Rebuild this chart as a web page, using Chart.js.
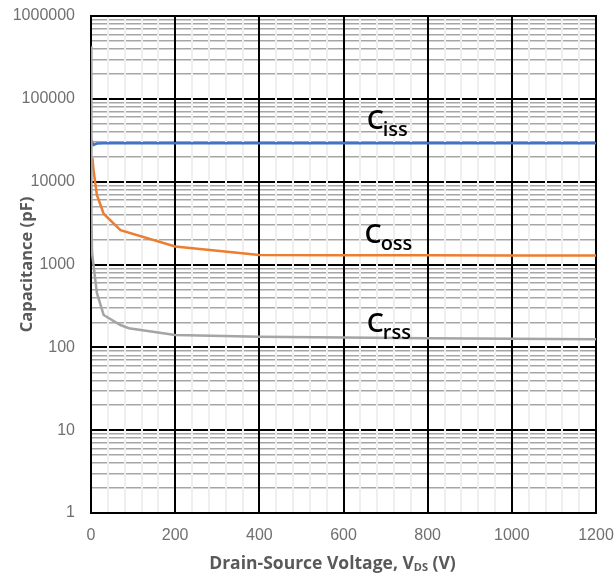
<!DOCTYPE html>
<html>
<head>
<meta charset="utf-8">
<script src="https://cdn.jsdelivr.net/npm/chart.js@4"></script>
<style>
  html, body { margin: 0; padding: 0; background: #ffffff; }
  #wrap { position: relative; width: 615px; height: 577px; }
</style>
</head>
<body>
<div id="wrap"><canvas id="chart" width="615" height="577"></canvas></div>
<script>
// ---- data ----
const cissV = [1, 2.5, 6, 14, 30, 200, 400, 600, 800, 1000, 1200];
const cissC = [32000, 30000, 27700, 28800, 29000, 29000, 29000, 29000, 29000, 29000, 29000];

const cossV = [3.5, 6, 14, 30, 70, 200, 400, 600, 800, 1000, 1200];
const cossC = [19300, 13800, 6900, 4100, 2600, 1650, 1300, 1290, 1290, 1280, 1280];

const crssV = [0, 1, 2.5, 14, 30, 70, 90, 200, 400, 600, 800, 1000, 1200];
const crssC = [430000, 3750, 1380, 453, 246, 186, 170, 141, 134, 131, 129, 127, 125];

const seriesColors = ['#4472C4', '#ED7D31', '#A5A5A5'];

// series name labels (main letter + subscript) and their anchor in data units
const labelMain = ['C', 'C', 'C'];
const labelSub = ['iss', 'oss', 'rss'];
const labelAtV = [655, 650, 655];
const labelAtC = [43300, 1820, 155];

// ticks
const yDecades = [1, 10, 100, 1000, 10000, 100000, 1000000];
const yMinorMultipliers = [2, 3, 4, 5, 6, 7, 8, 9];
const xMajorTicks = [0, 200, 400, 600, 800, 1000, 1200];
const xMinorStep = 40;

const xTitleMain = 'Drain-Source Voltage, V';
const xTitleSub = 'DS';
const xTitleEnd = ' (V)';
const yTitle = 'Capacitance (pF)';

// ---- build ----
const toXY = (vs, cs) => vs.map((v, i) => ({ x: v, y: cs[i] }));

const yTickValues = [];
yDecades.forEach(d => {
  yTickValues.push(d);
  if (d < 1000000) yMinorMultipliers.forEach(m => yTickValues.push(d * m));
});
yTickValues.sort((a, b) => a - b);

const tickFont = { family: '"Liberation Sans", Arial, sans-serif', size: 16 };
const tickColor = '#707070';
const titleColor = '#595959';

const seriesLabelPlugin = {
  id: 'seriesLabelPlugin',
  afterDatasetsDraw(chart) {
    const { ctx, scales } = chart;
    const xs = scales.x, ys = scales.y;
    ctx.save();
    ctx.textAlign = 'left';
    ctx.textBaseline = 'alphabetic';
    ctx.fillStyle = '#000000';
    for (let i = 0; i < labelMain.length; i++) {
      const px = xs.getPixelForValue(labelAtV[i]);
      const py = ys.getPixelForValue(labelAtC[i]);
      ctx.font = '600 27px "Open Sans", sans-serif';
      ctx.fillText(labelMain[i], px, py);
      const w = ctx.measureText(labelMain[i]).width;
      ctx.font = '600 20px "Open Sans", sans-serif';
      ctx.fillText(labelSub[i], px + w - 1, py + 7);
    }
    // x-axis title with subscript
    ctx.fillStyle = titleColor;
    const fMain = 'bold 17.5px "Open Sans", sans-serif';
    const fSub = 'bold 11px "Open Sans", sans-serif';
    ctx.font = fMain;
    const w1 = ctx.measureText(xTitleMain).width;
    const w3 = ctx.measureText(xTitleEnd).width;
    ctx.font = fSub;
    const w2 = ctx.measureText(xTitleSub).width;
    const total = w1 + w2 + w3;
    const cx = (chart.chartArea.left + chart.chartArea.right) / 2 - 11;
    let tx = cx - total / 2;
    const ty = chart.height - 8;
    ctx.font = fMain;
    ctx.fillText(xTitleMain, tx, ty);
    tx += w1;
    ctx.font = fSub;
    ctx.fillText(xTitleSub, tx, ty + 2);
    tx += w2;
    ctx.font = fMain;
    ctx.fillText(xTitleEnd, tx, ty);
    ctx.restore();
  }
};

new Chart(document.getElementById('chart'), {
  type: 'line',
  data: {
    datasets: [
      { label: 'Ciss', data: toXY(cissV, cissC), borderColor: seriesColors[0], borderWidth: 2.5, order: 2 },
      { label: 'Coss', data: toXY(cossV, cossC), borderColor: seriesColors[1], borderWidth: 2.5, order: 1 },
      { label: 'Crss', data: toXY(crssV, crssC), borderColor: seriesColors[2], borderWidth: 2.5, order: 0 }
    ]
  },
  options: {
    responsive: false,
    animation: false,
    devicePixelRatio: 1,
    events: [],
    elements: { point: { radius: 0 }, line: { tension: 0, fill: false } },
    layout: { padding: { left: 0, right: 19, top: 16, bottom: 0 } },
    plugins: { legend: { display: false }, tooltip: { enabled: false } },
    scales: {
      y: {
        type: 'logarithmic',
        position: 'left',
        min: 1,
        max: 1000000,
        afterBuildTicks: (scale) => {
          scale.ticks = yTickValues.map(v => ({ value: v, major: yDecades.includes(v) }));
        },
        afterFit: (scale) => { scale.width = 91; scale.paddingTop = 0; scale.paddingBottom = 0; },
        ticks: {
          autoSkip: false,
          padding: 16,
          font: tickFont,
          color: tickColor,
          callback: (v) => (yDecades.includes(v) ? String(v) : '')
        },
        grid: {
          drawTicks: false,
          color: (c) => (yDecades.includes(c.tick.value) ? '#000000' : '#a6a6a6'),
          lineWidth: (c) => (yDecades.includes(c.tick.value) ? 2 : 1.5)
        },
        border: { display: true, color: '#000000', width: 2 },
        title: {
          display: true,
          text: yTitle,
          color: titleColor,
          font: { family: '"Open Sans", sans-serif', size: 16.5, weight: 'bold' },
          padding: { top: 17, bottom: 0 }
        }
      },
      x: {
        type: 'linear',
        position: 'bottom',
        min: 0,
        max: 1200,
        afterFit: (scale) => { scale.height = 64; scale.paddingLeft = 0; scale.paddingRight = 0; },
        ticks: {
          stepSize: xMinorStep,
          autoSkip: false,
          maxRotation: 0,
          padding: 13,
          font: tickFont,
          color: tickColor,
          callback: (v) => (xMajorTicks.includes(v) ? String(v) : '')
        },
        grid: {
          drawTicks: false,
          color: (c) => (xMajorTicks.includes(c.tick.value) ? '#000000' : '#efefef'),
          lineWidth: 2
        },
        border: { display: true, color: '#000000', width: 2 }
      },
      yRight: {
        type: 'logarithmic',
        position: 'right',
        min: 1,
        max: 1000000,
        afterFit: (scale) => { scale.width = 0; },
        ticks: { display: false },
        grid: { display: false, drawTicks: false },
        border: { display: true, color: '#000000', width: 2 }
      },
      xTop: {
        type: 'linear',
        position: 'top',
        min: 0,
        max: 1200,
        afterFit: (scale) => { scale.height = 0; },
        ticks: { display: false },
        grid: { display: false, drawTicks: false },
        border: { display: true, color: '#000000', width: 2 }
      }
    }
  },
  plugins: [seriesLabelPlugin]
});
</script>
</body>
</html>
